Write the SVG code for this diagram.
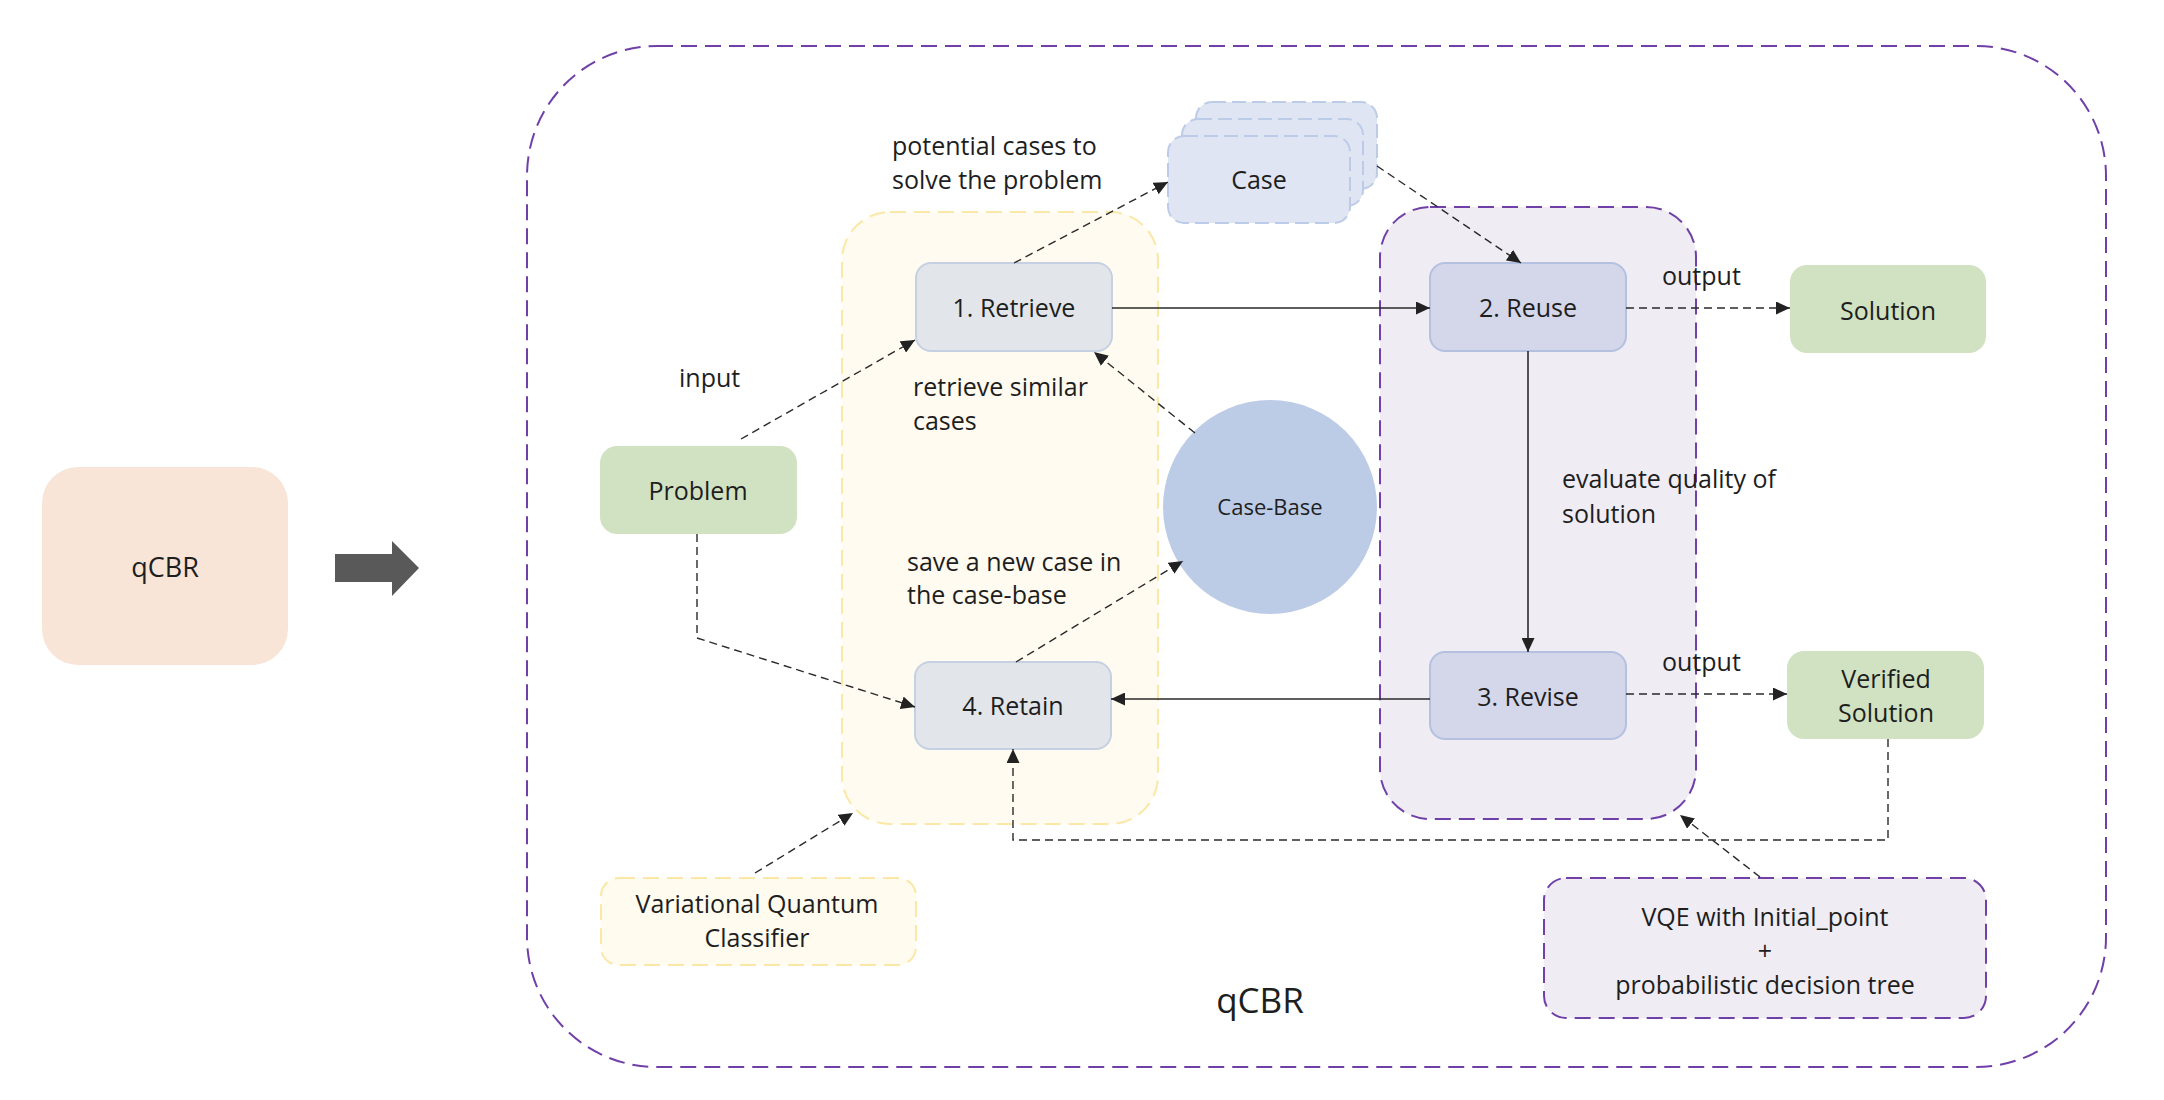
<svg xmlns="http://www.w3.org/2000/svg" width="2164" height="1100" viewBox="0 0 2164 1100">
<defs>
<style>
text{font-family:"Open Sans","Noto Sans","Liberation Sans",sans-serif;font-size:25px;fill:#1e1e1e}
.c{text-anchor:middle}
.grp{stroke-width:2;stroke-dasharray:16 8}
.step1{fill:#e2e6ea;stroke:#c5d0e3;stroke-width:2}
.step2{fill:#d4d7ea;stroke:#b3c0e0;stroke-width:2}
.green{fill:#d1e2c2}
.card{fill:#dfe5f2;stroke:#bccce8;stroke-width:2;stroke-dasharray:14 6}
.dash{fill:none;stroke:#2a2a2a;stroke-width:1.4;stroke-dasharray:8 5}
.solid{fill:none;stroke:#2a2a2a;stroke-width:1.6}
</style>
<marker id="ah" viewBox="0 0 14 13" refX="14" refY="6.5" markerWidth="14" markerHeight="13" markerUnits="userSpaceOnUse" orient="auto">
<path d="M0,0 L14,6.5 L0,13 z" fill="#222"/>
</marker>
</defs>
<rect width="2164" height="1100" fill="#fff"/>

<g id="qcbr-left">
<rect x="42" y="467" width="246" height="198" rx="36" fill="#f8e5d8"/>
<text class="c" x="165" y="577" style="font-size:27px">qCBR</text>
</g>
<g id="big-arrow">
<path d="M335,554 H392 V541 L419,568 L392,596 V582 H335 z" fill="#595959"/>
</g>

<g id="qcbr-frame">
<rect class="grp" x="527" y="46" width="1579" height="1021" rx="130" fill="none" stroke="#7040a8"/>
<text class="c" x="1260" y="1013" style="font-size:35px">qCBR</text>
</g>
<g id="group-retrieve-retain">
<rect class="grp" x="842" y="212" width="316" height="612" rx="48" fill="#fffbf0" stroke="#fbe7a6"/>
</g>
<g id="group-reuse-revise">
<rect class="grp" x="1380" y="207" width="316" height="612" rx="50" fill="#efecf4" stroke="#7040a8"/>
</g>

<g id="case">
<rect class="card" x="1196" y="102" width="181" height="87" rx="16"/>
<rect class="card" x="1182" y="119" width="181" height="87" rx="16"/>
<rect class="card" x="1168" y="136" width="182" height="87" rx="16"/>
<text class="c" x="1259" y="189">Case</text>
</g>
<g id="retrieve">
<rect class="step1" x="916" y="263" width="196" height="88" rx="15"/>
<text class="c" x="1014" y="317">1. Retrieve</text>
</g>
<g id="retain">
<rect class="step1" x="915" y="662" width="196" height="87" rx="15"/>
<text class="c" x="1013" y="715">4. Retain</text>
</g>
<g id="reuse">
<rect class="step2" x="1430" y="263" width="196" height="88" rx="15"/>
<text class="c" x="1528" y="317">2. Reuse</text>
</g>
<g id="revise">
<rect class="step2" x="1430" y="652" width="196" height="87" rx="15"/>
<text class="c" x="1528" y="706">3. Revise</text>
</g>
<g id="problem">
<rect class="green" x="600" y="446" width="197" height="88" rx="17"/>
<text class="c" x="698" y="500">Problem</text>
</g>
<g id="solution">
<rect class="green" x="1790" y="265" width="196" height="88" rx="17"/>
<text class="c" x="1888" y="320">Solution</text>
</g>
<g id="verified-solution">
<rect class="green" x="1787" y="651" width="197" height="88" rx="17"/>
<text class="c" x="1886" y="688">Verified</text>
<text class="c" x="1886" y="722">Solution</text>
</g>
<g id="case-base">
<circle cx="1270" cy="507" r="107" fill="#bccbe6"/>
<text class="c" x="1270" y="515" style="font-size:22px">Case-Base</text>
</g>
<g id="vqc">
<rect class="grp" x="601" y="878" width="315" height="87" rx="18" fill="#fffbef" stroke="#fbe7a6"/>
<text class="c" x="757" y="913">Variational Quantum</text>
<text class="c" x="757" y="947">Classifier</text>
</g>
<g id="vqe">
<rect class="grp" x="1544" y="878" width="442" height="140" rx="22" fill="#efecf4" stroke="#7040a8"/>
<text class="c" x="1765" y="926">VQE with Initial_point</text>
<text class="c" x="1765" y="960">+</text>
<text class="c" x="1765" y="994">probabilistic decision tree</text>
</g>

<g id="connectors">
<path class="dash" d="M741,439 L915,340" marker-end="url(#ah)"/>
<path class="dash" d="M1014,263 L1168,182" marker-end="url(#ah)"/>
<path class="dash" d="M1377,166 L1521,263" marker-end="url(#ah)"/>
<path class="solid" d="M1112,308 L1430,308" marker-end="url(#ah)"/>
<path class="dash" d="M1626,308 L1790,308" marker-end="url(#ah)"/>
<path class="solid" d="M1528,351 L1528,652" marker-end="url(#ah)"/>
<path class="dash" d="M1626,694 L1787,694" marker-end="url(#ah)"/>
<path class="solid" d="M1430,699 L1111,699" marker-end="url(#ah)"/>
<path class="dash" d="M1195,433 L1094,352" marker-end="url(#ah)"/>
<path class="dash" d="M1016,662 L1183,561" marker-end="url(#ah)"/>
<path class="dash" d="M697,534 L697,638 L915,707" marker-end="url(#ah)"/>
<path class="dash" d="M1888,739 L1888,840 L1013,840 L1013,749" marker-end="url(#ah)"/>
<path class="dash" d="M755,873 L853,813" marker-end="url(#ah)"/>
<path class="dash" d="M1760,877 L1680,815" marker-end="url(#ah)"/>
</g>

<g id="labels">
<text x="892" y="155">potential cases to</text>
<text x="892" y="189">solve the problem</text>
<text x="679" y="387">input</text>
<text x="913" y="396">retrieve similar</text>
<text x="913" y="430">cases</text>
<text x="907" y="571">save a new case in</text>
<text x="907" y="604">the case-base</text>
<text x="1662" y="285">output</text>
<text x="1662" y="671">output</text>
<text x="1562" y="488">evaluate quality of</text>
<text x="1562" y="523">solution</text>
</g>
</svg>
